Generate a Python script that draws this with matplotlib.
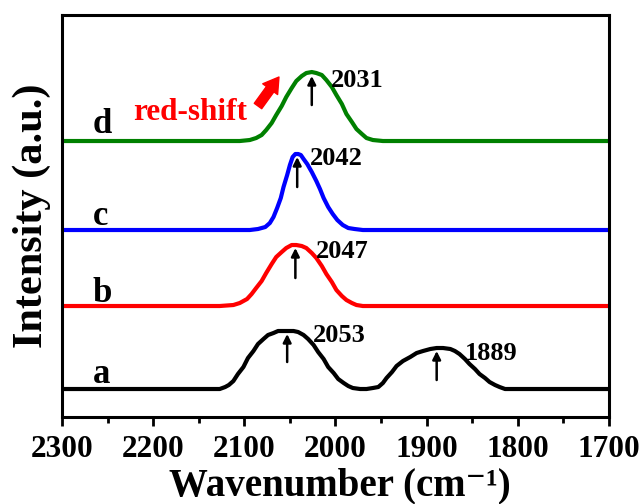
import numpy as np
import matplotlib
matplotlib.use('Agg')
import matplotlib.pyplot as plt
from matplotlib.ticker import MultipleLocator

plt.rcParams['font.family'] = ['Liberation Serif', 'DejaVu Serif']
plt.rcParams['font.weight'] = 'bold'

# Espectros (intensidad en unidades arbitrarias, ya desplazados)
wn_a = [2300, 2138, 2127, 2121, 2117, 2112, 2107, 2101, 2096, 2090,
        2085, 2079, 2074, 2068, 2063, 2057, 2052, 2046, 2041, 2035,
        2030, 2024, 2019, 2013, 2008, 2002, 1997, 1991, 1986, 1981,
        1973, 1966, 1959, 1953, 1948, 1944, 1938, 1933, 1926, 1918,
        1911, 1904, 1896, 1889, 1882, 1874, 1869, 1864, 1858, 1853,
        1847, 1842, 1836, 1831, 1825, 1820, 1814, 1809, 1700]
int_a = [28, 28, 28, 30, 32, 36, 43, 50, 59, 66,
         73, 78, 82, 84, 86, 86, 86, 86, 85, 82,
         78, 72, 65, 58, 50, 44, 38, 34, 31, 29,
         28, 28, 29, 30, 34, 39, 45, 51, 56, 60,
         64, 66, 68, 69, 69, 68, 66, 63, 58, 53,
         48, 43, 39, 35, 32, 30, 28, 28, 28]

wn_b = [2300, 2127, 2112, 2105, 2097, 2092, 2087, 2081, 2076, 2070,
        2065, 2059, 2054, 2048, 2043, 2037, 2032, 2026, 2021, 2015,
        2010, 2004, 1999, 1993, 1988, 1982, 1977, 1970, 1700]
int_b = [111, 111, 112, 114, 118, 123, 129, 136, 144, 153,
         160, 165, 169, 172, 172, 171, 169, 164, 159, 151,
         143, 135, 127, 121, 117, 114, 112, 111, 111]

wn_c = [2300, 2094, 2085, 2077, 2072, 2068, 2064, 2060, 2057, 2053,
        2050, 2047, 2044, 2041, 2038, 2035, 2031, 2026, 2021, 2017,
        2013, 2008, 2003, 1998, 1992, 1986, 1979, 1970, 1700]
int_c = [187, 187, 188, 190, 194, 200, 209, 219, 230, 242,
         252, 260, 263, 263, 262, 258, 253, 245, 236, 228,
         219, 210, 203, 197, 192, 189, 188, 187, 187]

wn_d = [2300, 2105, 2094, 2087, 2081, 2076, 2070, 2065, 2059, 2054,
        2048, 2043, 2037, 2032, 2026, 2021, 2015, 2010, 2004, 1999,
        1993, 1988, 1982, 1977, 1971, 1966, 1959, 1948, 1700]
int_d = [276, 276, 277, 279, 282, 287, 294, 302, 311, 320,
         329, 336, 341, 344, 345, 344, 342, 337, 330, 322,
         313, 303, 295, 288, 283, 279, 277, 276, 276]

sample_names = ['a', 'b', 'c', 'd']
sample_colors = ['black', 'red', 'blue', 'green']

# Picos marcados con flecha
peak_labels = ['2053', '1889', '2047', '2042', '2031']
peak_x = [2053, 1889, 2044, 2042, 2026]
peak_y0 = [55, 37, 139, 230, 312]
peak_y1 = [83, 66, 169, 260, 341]

fig = plt.figure(figsize=(6.43, 5.04), dpi=100)
ax = fig.add_axes([0.0964, 0.1726, 0.8507, 0.7976])

series = [(wn_a, int_a), (wn_b, int_b), (wn_c, int_c), (wn_d, int_d)]
for (x, y), col in zip(series, sample_colors):
    ax.plot(x, y, color=col, lw=3, solid_joinstyle='round', solid_capstyle='butt')

# letras de cada muestra
for name, y in zip(sample_names, [34, 115, 192, 284]):
    ax.text(2266, y, name, fontsize=25, fontweight='bold', va='baseline', ha='left')

# flechas negras en los picos
for x, y0, y1 in zip(peak_x, peak_y0, peak_y1):
    ax.annotate('', xy=(x, y1), xytext=(x, y0),
                arrowprops=dict(arrowstyle='-|>', color='black', lw=1.8,
                                mutation_scale=12, shrinkA=0, shrinkB=0))

lab_pos = [(2025, 75), (1858, 57), (2022, 159), (2028, 252), (2005, 330)]
for lab, (x, y) in zip(peak_labels, lab_pos):
    ax.text(x, y, lab, fontsize=19, fontweight='bold', va='baseline', ha='left')

# red-shift
ax.text(2222, 297, 'red-shift', color='red', fontsize=22.5, fontweight='bold',
        va='baseline', ha='left')
ax.annotate('', xy=(2062, 340), xytext=(2085, 311),
            arrowprops=dict(arrowstyle='simple,head_width=1.1,head_length=0.9,tail_width=0.55',
                            color='red', mutation_scale=12, shrinkA=0, shrinkB=0))

ax.set_xlim(2300, 1700)
ax.set_ylim(0, 402)
ax.set_yticks([])
ax.xaxis.set_major_locator(MultipleLocator(100))
ax.xaxis.set_minor_locator(MultipleLocator(50))
ax.tick_params(axis='x', which='major', direction='out', length=6.5, width=2,
               labelsize=22.5, pad=6.5)
ax.tick_params(axis='x', which='minor', direction='out', length=4, width=2)
for lbl in ax.get_xticklabels():
    lbl.set_fontweight('bold')
for sp in ax.spines.values():
    sp.set_linewidth(2.2)

ax.set_xlabel('Wavenumber (cm\u207b\u00b9)', fontsize=28, fontweight='bold', va='baseline')
ax.xaxis.set_label_coords(340 / 643, 9 / 504, transform=fig.transFigure)
ax.set_ylabel('Intensity (a.u.)', fontsize=30.5, fontweight='bold', labelpad=8)

fig.savefig('out.png', dpi=100)
